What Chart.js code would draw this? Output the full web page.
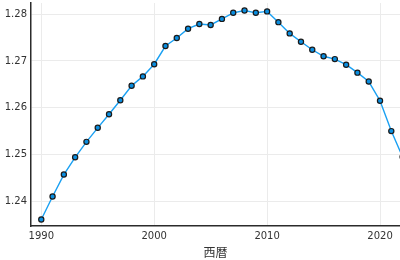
<!DOCTYPE html>
<html lang="ja">
<head>
  <meta charset="UTF-8">
  <title>人口の推移</title>
  <script src="https://cdn.jsdelivr.net/npm/chart.js"></script>
  <style>
    html, body { margin: 0; padding: 0; background: #fff; }
    #wrap { width: 400px; height: 260px; position: relative; }
  </style>
</head>
<body>
  <div id="wrap"><canvas id="chartJinko"></canvas></div>

  <script>
    // 西暦と人口（億人）
    const years = [1990, 1991, 1992, 1993, 1994, 1995, 1996, 1997, 1998, 1999,
                   2000, 2001, 2002, 2003, 2004, 2005, 2006, 2007, 2008, 2009,
                   2010, 2011, 2012, 2013, 2014, 2015, 2016, 2017, 2018, 2019,
                   2020, 2021, 2022];
    const population = [1.2361, 1.2410, 1.2457, 1.2494, 1.2527, 1.2557, 1.2586, 1.2616, 1.2647, 1.2667,
                        1.2693, 1.2732, 1.2749, 1.2769, 1.2779, 1.2777, 1.2790, 1.2803, 1.2808, 1.2803,
                        1.2806, 1.2783, 1.2759, 1.2741, 1.2724, 1.2710, 1.2704, 1.2692, 1.2675, 1.2656,
                        1.2615, 1.2550, 1.2495];
    const xTicks = [1990, 2000, 2010, 2020];
    const yTicks = [1.24, 1.25, 1.26, 1.27, 1.28];

    const lineColor = '#1aa0f2';
    const gridColor = '#ebebeb';
    const axisColor = '#2b2b2b';

    const ctx = document.getElementById('chartJinko').getContext('2d');
    new Chart(ctx, {
      type: 'line',
      data: {
        datasets: [{
          label: '人口',
          data: years.map((y, i) => ({ x: y, y: population[i] })),
          borderColor: lineColor,
          borderWidth: 1.4,
          backgroundColor: lineColor,
          pointBackgroundColor: '#0a8ee0',
          pointBorderColor: '#1a1a1a',
          pointBorderWidth: 1.2,
          pointRadius: 2.6,
          tension: 0
        }]
      },
      options: {
        responsive: true,
        maintainAspectRatio: false,
        animation: false,
        layout: { autoPadding: false, padding: { top: 3, right: 0, left: 0, bottom: 0 } },
        plugins: {
          legend: { display: false },
          tooltip: { enabled: false }
        },
        scales: {
          x: {
            type: 'linear',
            min: 1989.09,
            max: 2021.77,
            afterBuildTicks: s => { s.ticks = xTicks.map(v => ({ value: v })); },
            afterFit: s => { s.height = 34; s.paddingLeft = 0; s.paddingRight = 0; },
            ticks: {
              color: '#333',
              font: { family: 'DejaVu Sans', size: 10 },
              padding: 4,
              maxRotation: 0,
              callback: v => String(v)
            },
            grid: { color: gridColor, drawTicks: false },
            border: { color: axisColor, width: 1.5 },
            title: {
              display: true,
              text: '西暦',
              color: '#333',
              font: { family: 'Noto Sans CJK JP', size: 12 },
              padding: { top: 2, bottom: 0 }
            }
          },
          y: {
            min: 1.2347,
            max: 1.2824,
            afterBuildTicks: s => { s.ticks = yTicks.map(v => ({ value: v })); },
            afterFit: s => { s.width = 31; s.paddingTop = 0; s.paddingBottom = 0; },
            ticks: {
              color: '#333',
              font: { family: 'DejaVu Sans', size: 10 },
              padding: 4,
              callback: v => v.toFixed(2)
            },
            grid: { color: gridColor, drawTicks: false },
            border: { color: axisColor, width: 1.5 }
          }
        }
      }
    });
  </script>
</body>
</html>
